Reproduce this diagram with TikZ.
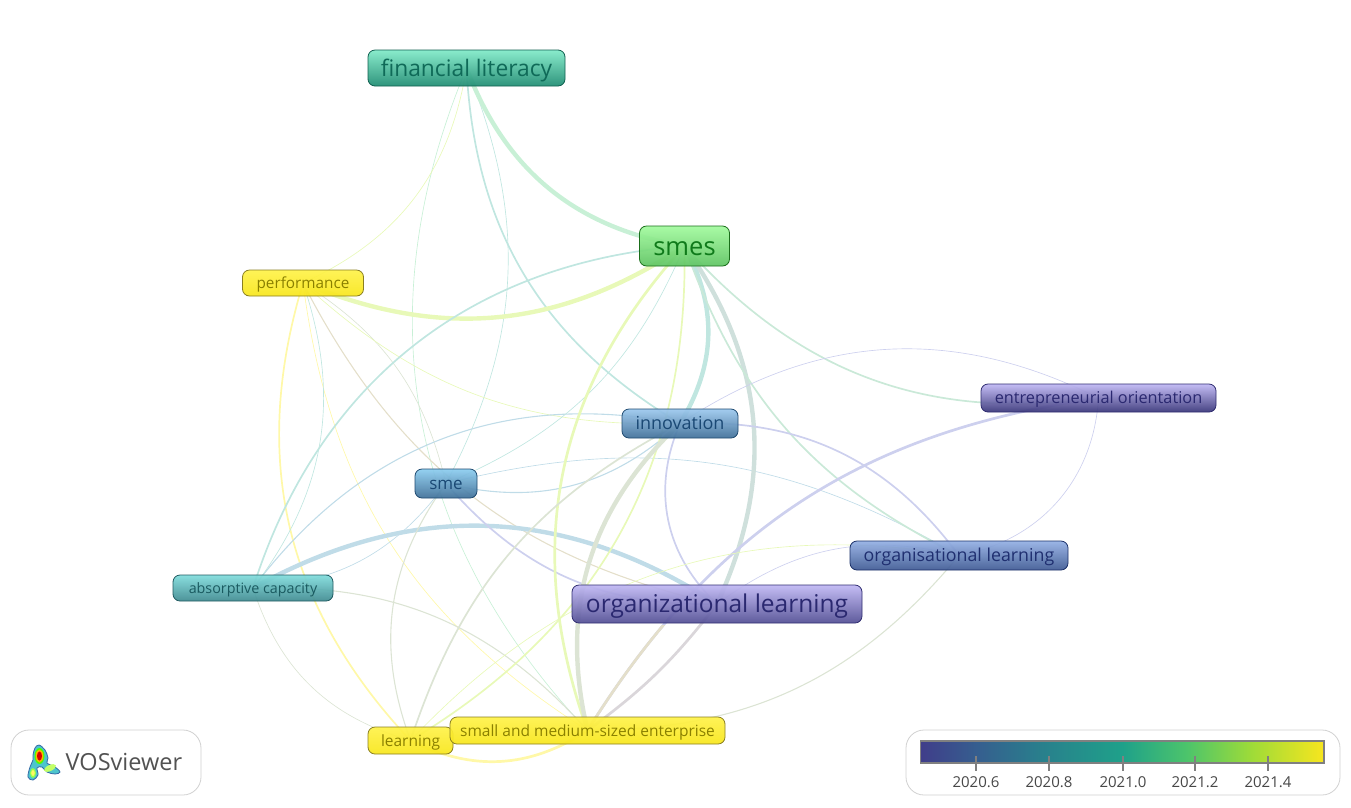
\documentclass[tikz,border=0pt]{standalone}
\usepackage{fontspec}
\setmainfont{Open Sans}
\usetikzlibrary{backgrounds}
\definecolor{edgegreen}{HTML}{C8F0D6}
\definecolor{edgesage}{HTML}{CFE0DC}
\definecolor{edgemint}{HTML}{CAE9D8}
\definecolor{edgelime}{HTML}{E8F9B8}
\definecolor{edgeteal}{HTML}{C0E6E0}
\definecolor{edgeblue}{HTML}{C0DCE8}
\definecolor{edgelav}{HTML}{CDD0EE}
\definecolor{edgegray}{HTML}{DCE4D4}
\definecolor{edgeyellow}{HTML}{FFF8A8}
\definecolor{edgetan}{HTML}{E4DFCA}
\definecolor{edgeash}{HTML}{DAD6DA}
\pgfdeclarehorizontalshading{viridisbar}{100bp}{rgb(0bp)=(.25,.24,.54);rgb(25bp)=(.25,.24,.54);rgb(32bp)=(.21,.37,.56);rgb(40bp)=(.16,.50,.55);rgb(50bp)=(.12,.63,.54);rgb(58bp)=(.30,.77,.42);rgb(66bp)=(.62,.86,.22);rgb(75bp)=(.97,.90,.12);rgb(100bp)=(.97,.90,.12)}
\tikzset{
  term/.style={rectangle, rounded corners=7pt, draw, line width=0.8pt, inner sep=0pt, fill opacity=0.93, text opacity=1},
  termfont/.style={font=\fontsize{#1}{#1}\selectfont, text height=0.72*#1pt, text depth=0pt},
  greenterm/.style={term, draw=HTMLgreenline, top color=HTMLgreentop, bottom color=HTMLgreenbot, text=HTMLgreentxt},
  tealterm/.style={term, draw=HTMLtealline, top color=HTMLtealtop, bottom color=HTMLtealbot, text=HTMLtealtxt},
  yellowterm/.style={term, draw=HTMLyelline, top color=HTMLyeltop, bottom color=HTMLyelbot, text=HTMLyeltxt},
  blueterm/.style={term, draw=HTMLblueline, top color=HTMLbluetop, bottom color=HTMLbluebot, text=HTMLbluetxt},
  cyanterm/.style={term, draw=HTMLcyanline, top color=HTMLcyantop, bottom color=HTMLcyanbot, text=HTMLcyantxt},
  indigoterm/.style={term, draw=HTMLindline, top color=HTMLindtop, bottom color=HTMLindbot, text=HTMLindtxt},
  violetterm/.style={term, draw=HTMLvioline, top color=HTMLviotop, bottom color=HTMLviobot, text=HTMLviotxt},
  edge/.style={line cap=round},
  thinedge/.style={edge, line width=0.65pt},
  lightedge/.style={edge, line width=1.1pt},
  midedge/.style={edge, line width=1.7pt},
  wideedge/.style={edge, line width=2.7pt},
  fatedge/.style={edge, line width=4.4pt},
  panel/.style={rectangle, rounded corners=18pt, draw=black!18, line width=0.8pt, fill=white},
}
\definecolor{HTMLgreenline}{HTML}{1A6E1A}\definecolor{HTMLgreentop}{HTML}{A2FA9E}\definecolor{HTMLgreenbot}{HTML}{5FC462}\definecolor{HTMLgreentxt}{HTML}{0F7A1A}
\definecolor{HTMLtealline}{HTML}{106050}\definecolor{HTMLtealtop}{HTML}{80EAC8}\definecolor{HTMLtealbot}{HTML}{1F8C72}\definecolor{HTMLtealtxt}{HTML}{0F6A58}
\definecolor{HTMLyelline}{HTML}{8A7F20}\definecolor{HTMLyeltop}{HTML}{FFF24A}\definecolor{HTMLyelbot}{HTML}{F8E61C}\definecolor{HTMLyeltxt}{HTML}{8A8000}
\definecolor{HTMLblueline}{HTML}{1F4A70}\definecolor{HTMLbluetop}{HTML}{9CC8EE}\definecolor{HTMLbluebot}{HTML}{3F6F98}\definecolor{HTMLbluetxt}{HTML}{1A4874}
\definecolor{HTMLcyanline}{HTML}{205A60}\definecolor{HTMLcyantop}{HTML}{80DCDC}\definecolor{HTMLcyanbot}{HTML}{3F8A90}\definecolor{HTMLcyantxt}{HTML}{1A5A60}
\definecolor{HTMLindline}{HTML}{1A2F68}\definecolor{HTMLindtop}{HTML}{94B0E4}\definecolor{HTMLindbot}{HTML}{3F5A94}\definecolor{HTMLindtxt}{HTML}{1F2F70}
\definecolor{HTMLvioline}{HTML}{2F2C70}\definecolor{HTMLviotop}{HTML}{C0B8F4}\definecolor{HTMLviobot}{HTML}{524E94}\definecolor{HTMLviotxt}{HTML}{2A2870}
\begin{document}
\begin{tikzpicture}[x=1pt,y=-1pt]
    \useasboundingbox (0,0) rectangle (1351,807);

    \node[tealterm, termfont=22.8, minimum width=197pt, minimum height=36pt] at (466.5,68) (fin_lit) {financial literacy};
    \node[greenterm, termfont=25.5, minimum width=90pt, minimum height=40pt] at (684.5,246) (smes) {smes};
    \node[yellowterm, termfont=15.3, minimum width=121pt, minimum height=26pt] at (303,283) (perf) {performance};
    \node[violetterm, termfont=16.3, minimum width=235pt, minimum height=28pt, bottom color=HTMLvioline!75!HTMLviobot] at (1098.5,398) (ent_ori) {entrepreneurial orientation};
    \node[blueterm, termfont=18, minimum width=116pt, minimum height=29pt] at (680,423.5) (innov) {innovation};
    \node[blueterm, termfont=17, minimum width=62pt, minimum height=29pt, top color=HTMLbluetop!90!cyan] at (446,483.5) (sme) {sme};
    \node[indigoterm, termfont=17.8, minimum width=218pt, minimum height=29pt] at (959,555.5) (org_lea) {organisational learning};
    \node[violetterm, termfont=24.5, minimum width=290pt, minimum height=38pt] at (717,604) (org_learn) {organizational learning};
    \node[cyanterm, termfont=14.3, minimum width=160pt, minimum height=26pt] at (253,588) (abs_cap) {absorptive capacity};
    \node[yellowterm, termfont=15.5, minimum width=85pt, minimum height=27pt] at (410.5,740.5) (learning) {learning};
    \node[yellowterm, termfont=15.5, minimum width=275pt, minimum height=27pt] at (587.5,730.5) (small_ent) {small and medium-sized enterprise};

    \begin{scope}[on background layer]
        \draw[thinedge, edgeteal]   (fin_lit.center) to[bend left=25]   (sme.center);
        \draw[thinedge, edgegreen]  (fin_lit.center) to[bend right=33]  (small_ent.center);
        \draw[thinedge, edgelime]   (fin_lit.center) to[bend left=28]   (perf.center);
        \draw[midedge, edgeteal]    (fin_lit.center) to[bend right=28]  (innov.center);
        \draw[fatedge, edgegreen]   (fin_lit.center) to[bend right=30]  (smes.center);

        \draw[fatedge, edgelime]    (perf.center) to[bend right=28]     (smes.center);
        \draw[midedge, edgeyellow]  (perf.center) to[bend right=30]     (learning.center);
        \draw[thinedge, edgeyellow] (perf.center) to[bend right=25]     (small_ent.center);
        \draw[lightedge, edgetan]   (perf.center) to[bend right=25]     (org_learn.center);
        \draw[thinedge, edgegray]   (perf.center) to[bend left=22]      (sme.center);
        \draw[thinedge, edgelime]   (perf.center) to[bend right=22]     (innov.center);

        \draw[midedge, edgeteal]    (abs_cap.center) to[bend left=34]   (smes.center);
        \draw[lightedge, edgeblue]  (abs_cap.center) to[bend left=32]   (innov.center);
        \draw[fatedge, edgeblue]    (abs_cap.center) to[bend left=31]   (org_learn.center);
        \draw[thinedge, edgeblue]   (abs_cap.center) to[bend right=25]  (sme.center);
        \draw[thinedge, edgeteal]   (abs_cap.center) to[bend right=28]  (perf.center);
        \draw[thinedge, edgegray]   (abs_cap.center) to[bend right=28]  (learning.center);
        \draw[lightedge, edgegray]  (abs_cap.center) to[bend left=25]   (small_ent.center);

        \draw[lightedge, edgeblue]  (sme.center) to[bend right=28]      (innov.center);
        \draw[thinedge, edgeteal]   (sme.center) to[bend right=22]      (smes.center);
        \draw[thinedge, edgeblue]   (sme.center) to[bend left=22]       (org_lea.center);
        \draw[midedge, edgelav]     (sme.center) to[bend right=25]      (org_learn.center);
        \draw[lightedge, edgegray]  (sme.center) to[bend right=28]      (learning.center);

        \draw[fatedge, edgeteal]    (smes.center) to[bend left=30]      (innov.center);
        \draw[wideedge, edgelime]   (smes.center) to[bend right=31]     (small_ent.center);
        \draw[midedge, edgelime]    (smes.center) to[bend left=30]      (learning.center);
        \draw[fatedge, edgesage]    (smes.center) to[bend left=30]      (org_learn.center);
        \draw[midedge, edgemint]    (smes.center) to[bend right=22]     (org_lea.center);
        \draw[midedge, edgemint]    (smes.center) to[bend right=28]     (ent_ori.center);

        \draw[midedge, edgelav]     (innov.center) to[bend left=28]     (org_lea.center);
        \draw[midedge, edgelav]     (innov.center) to[bend right=35]    (org_learn.center);
        \draw[fatedge, edgegray]    (innov.center) to[bend right=30]    (small_ent.center);
        \draw[midedge, edgegray]    (innov.center) to[bend right=22]    (learning.center);
        \draw[thinedge, edgelav]    (innov.center) to[bend left=30]     (ent_ori.center);

        \draw[thinedge, edgelav]    (ent_ori.center) to[bend left=38]   (org_lea.center);
        \draw[wideedge, edgelav]    (ent_ori.center) to[bend right=25]  (small_ent.center);
        \begin{scope}
            \clip (560,625) rectangle (720,730);
            \draw[wideedge, edgetan] (ent_ori.center) to[bend right=25] (small_ent.center);
        \end{scope}
        \draw[thinedge, edgelav]    (org_learn.center) to[bend left=25] (org_lea.center);
        \draw[wideedge, edgeash]    (org_learn.center) to[bend left=8]  (small_ent.center);
        \draw[thinedge, edgelime]   (org_lea.center) to[bend right=28]  (learning.center);
        \draw[lightedge, edgegray]  (org_lea.center) to[bend left=25]   (small_ent.center);
        \draw[wideedge, edgeyellow] (learning.center) to[bend right=30] (small_ent.center);
    \end{scope}

    % logo
    \draw[panel] (11,730) rectangle (201,795);
    \draw[draw=cyan!50!blue!80!black, fill=cyan!70!green!70!white, line width=0.8pt] plot[smooth cycle, tension=0.6] coordinates {(39,745) (45,750) (48,758) (47,763) (55,767) (60,772) (55,774) (47,772) (42,767) (37,768) (38,775) (33,780) (28,777) (30,767) (33,760) (33,755) (35,748)};
    \fill[green!60!yellow!70!white] (33,773) ellipse (3pt and 5pt);
    \fill[yellow!60!white] (33,773) ellipse (1.8pt and 3pt);
    \fill[green!40!yellow!60!white, rotate around={25:(50,768)}] (50,768) ellipse (6.5pt and 3pt);
    \fill[green!70!yellow] (39.5,756) ellipse (5pt and 8pt);
    \fill[orange!60!yellow] (39.5,756) ellipse (3.8pt and 6.5pt);
    \fill[red!85!black] (39.5,756) ellipse (2.5pt and 4.5pt);
    \node[anchor=west, inner sep=0pt, font=\fontsize{23.5}{26}\selectfont, text=black!68] at (65.5,762) (logo_text) {VOSviewer};

    % colour bar
    \draw[panel] (906,730) rectangle (1340,795);
    \draw[draw=black!50, line width=1.5pt, shading=viridisbar] (920.5,741) rectangle (1324,763);
    \foreach \x/\y in {976/2020.6, 1049/2020.8, 1123/2021.0, 1195/2021.2, 1268/2021.4} {
        \draw[black!50, line width=1.2pt] (\x,756) -- (\x,771);
        \node[font=\fontsize{15}{17}\selectfont, text=black!72] at (\x,782.5) (tick_\x) {\y};
    }
\end{tikzpicture}
\end{document}
